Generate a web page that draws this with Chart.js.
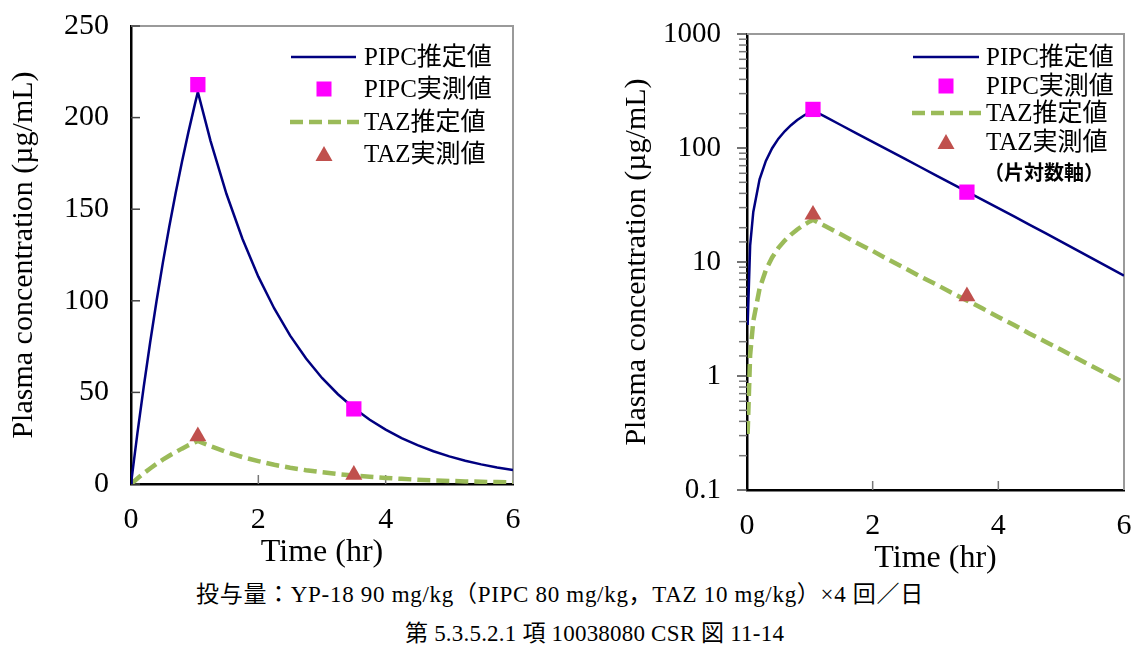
<!DOCTYPE html>
<html lang="ja">
<head>
<meta charset="UTF-8">
<title>PIPC / TAZ 血漿中濃度</title>
<script src="https://cdn.jsdelivr.net/npm/chart.js"></script>
<style>
  body { margin: 0; background: #fff; }
  #page { position: relative; width: 1135px; height: 646px; overflow: hidden;
          font-family: "Liberation Serif", "Noto Sans CJK JP", serif; color: #000; }
  .box { position: absolute; top: 0; }
  #box1 { left: 0; width: 560px; height: 580px; }
  #box2 { left: 600px; width: 535px; height: 580px; }
  .lg { position: absolute; white-space: nowrap; font-size: 25px; line-height: 30px; height: 30px; }
  .lg svg { position: absolute; top: 0; }
  .cap { position: absolute; white-space: nowrap; font-size: 23px; line-height: 26px; }
</style>
</head>
<body>
<div id="page">
  <div class="box" id="box1"><canvas id="linChart"></canvas></div>
  <div class="box" id="box2"><canvas id="logChart"></canvas></div>

  <!-- legend, left chart -->
  <div class="lg" style="left:288px;top:42px"><svg width="72" height="30"><line x1="3" y1="15" x2="68" y2="15" stroke="#000080" stroke-width="2.5"/></svg><span style="position:absolute;left:76px">PIPC推定値</span></div>
  <div class="lg" style="left:288px;top:74px"><svg width="72" height="30"><rect x="28.5" y="7.5" width="15" height="15" fill="#ff00ff"/></svg><span style="position:absolute;left:76px">PIPC実測値</span></div>
  <div class="lg" style="left:288px;top:107px"><svg width="72" height="30"><line x1="2" y1="15" x2="71" y2="15" stroke="#9bbb59" stroke-width="4.5" stroke-dasharray="13 6"/></svg><span style="position:absolute;left:76px">TAZ推定値</span></div>
  <div class="lg" style="left:288px;top:139px"><svg width="72" height="30"><polygon points="36,7 44.5,22 27.5,22" fill="#c0504d"/></svg><span style="position:absolute;left:76px">TAZ実測値</span></div>

  <!-- legend, right chart -->
  <div class="lg" style="left:910px;top:42px"><svg width="72" height="30"><line x1="3" y1="15" x2="69" y2="15" stroke="#000080" stroke-width="2.5"/></svg><span style="position:absolute;left:76px">PIPC推定値</span></div>
  <div class="lg" style="left:910px;top:71px"><svg width="72" height="30"><rect x="28.5" y="7.5" width="15" height="15" fill="#ff00ff"/></svg><span style="position:absolute;left:76px">PIPC実測値</span></div>
  <div class="lg" style="left:910px;top:98px"><svg width="72" height="30"><line x1="2" y1="15" x2="71" y2="15" stroke="#9bbb59" stroke-width="4.5" stroke-dasharray="13 6"/></svg><span style="position:absolute;left:76px">TAZ推定値</span></div>
  <div class="lg" style="left:910px;top:127px"><svg width="72" height="30"><polygon points="36,7 44.5,22 27.5,22" fill="#c0504d"/></svg><span style="position:absolute;left:76px">TAZ実測値</span></div>
  <div class="lg" style="left:984px;top:158px;font-size:20px;font-weight:bold">（片対数軸）</div>

  <div class="cap" style="left:196px;top:582px;letter-spacing:0.7px">投与量：YP-18 90 mg/kg（PIPC 80 mg/kg，TAZ 10 mg/kg）×4 回／日</div>
  <div class="cap" style="left:405px;top:621px;letter-spacing:0.2px">第 5.3.5.2.1 項 10038080 CSR 図 11-14</div>
</div>

<script>
  // time points of the simulated curves (hr) and read-off concentrations (µg/mL)
  const timeHr = [0, 0.01, 0.05, 0.1, 0.2, 0.3, 0.4, 0.5, 0.6, 0.7, 0.8, 0.9, 1.0, 1.05,
    1.25, 1.5, 1.75, 2.0, 2.25, 2.5, 2.75, 3.0, 3.25, 3.5, 3.75, 4.0, 4.25, 4.5, 4.75,
    5.0, 5.25, 5.5, 5.75, 6.0];
  const pipcEst = [0, 2.8, 13.9, 27.5, 53.1, 77.1, 99.6, 120.7, 140.3, 158.6, 175.8, 191.8, 206.8, 214,
    187.2, 158.3, 133.9, 113.2, 95.8, 81.0, 68.5, 57.9, 49.0, 41.5, 35.1, 29.7, 25.1, 21.2, 17.9,
    15.1, 12.7, 10.7, 9.0, 7.6];
  const tazEst = [0, 0.31, 1.53, 3.02, 5.84, 8.48, 10.96, 13.3, 15.4, 17.4, 19.3, 21.1, 22.7, 23.5,
    20.6, 17.4, 14.7, 12.5, 10.5, 8.9, 7.5, 6.4, 5.4, 4.6, 3.9, 3.3, 2.8, 2.35, 2.0,
    1.7, 1.43, 1.21, 1.03, 0.87];

  // observed samples
  const sampleHr = [1.05, 3.5];
  const pipcObs = [218, 41];
  const tazObs = [26, 5.0];

  // axis ticks
  const timeTicks = [0, 2, 4, 6];
  const linTicks = [0, 50, 100, 150, 200, 250];
  const logMajor = [0.1, 1, 10, 100, 1000];
  const logLabels = ['0.1', '1', '10', '100', '1000'];

  Chart.defaults.font.family = '"Liberation Serif", "Noto Sans CJK JP", serif';
  Chart.defaults.color = '#000';

  function pts(xs, ys, dropZero) {
    return xs.map((x, i) => ({ x: x, y: (dropZero && ys[i] <= 0) ? null : ys[i] }));
  }

  function makeData(logY) {
    return {
      datasets: [
        { label: 'PIPC実測値', data: pts(sampleHr, pipcObs), showLine: false, order: 0,
          pointStyle: 'rect', pointRadius: 10.8, pointHoverRadius: 10.8,
          backgroundColor: '#ff00ff', borderColor: '#ff00ff', borderWidth: 0 },
        { label: 'TAZ実測値', data: pts(sampleHr, tazObs), showLine: false, order: 0,
          pointStyle: 'triangle', pointRadius: 9.8, pointHoverRadius: 9.8,
          backgroundColor: '#c0504d', borderColor: '#c0504d', borderWidth: 0 },
        { label: 'PIPC推定値', data: pts(timeHr, pipcEst, logY), showLine: true, order: 1,
          pointRadius: 0, borderColor: '#000080', borderWidth: 2.5, tension: 0 },
        { label: 'TAZ推定値', data: pts(timeHr, tazEst, logY), showLine: true, order: 2,
          pointRadius: 0, borderColor: '#9bbb59', borderWidth: 4.5, borderDash: [13, 6], tension: 0 }
      ]
    };
  }

  // gray top/right frame + tick marks drawn from the scales
  const framePlugin = {
    id: 'frame',
    beforeDatasetsDraw(chart) {
      const { ctx, chartArea: a } = chart;
      ctx.save();
      ctx.strokeStyle = '#9a9a9a';
      ctx.lineWidth = 2;
      ctx.beginPath();
      ctx.moveTo(a.left, a.top);
      ctx.lineTo(a.right, a.top);
      ctx.lineTo(a.right, a.bottom);
      ctx.stroke();

      const xs = chart.scales.x;
      ctx.strokeStyle = '#777';
      ctx.lineWidth = 1.5;
      timeTicks.slice(1, -1).forEach(v => {
        const px = xs.getPixelForValue(v);
        ctx.beginPath();
        ctx.moveTo(px, a.bottom);
        ctx.lineTo(px, a.bottom - 9);
        ctx.stroke();
      });

      const ys = chart.scales.y;
      if (ys.type === 'logarithmic') {
        ys.ticks.forEach(t => {
          const major = logMajor.some(m => Math.abs(m - t.value) < 1e-9);
          const py = ys.getPixelForValue(t.value);
          ctx.strokeStyle = major ? '#444' : '#777';
          ctx.beginPath();
          ctx.moveTo(a.left, py);
          ctx.lineTo(a.left - (major ? 10 : 8), py);
          ctx.stroke();
        });
      } else {
        ctx.strokeStyle = '#444';
        linTicks.forEach(v => {
          const py = ys.getPixelForValue(v);
          ctx.beginPath();
          ctx.moveTo(a.left, py);
          ctx.lineTo(a.left + 9, py);
          ctx.stroke();
        });
      }
      ctx.restore();
    }
  };

  function baseOptions(cfg) {
    return {
      responsive: true,
      maintainAspectRatio: false,
      animation: false,
      events: [],
      layout: { padding: cfg.padding },
      plugins: { legend: { display: false }, tooltip: { enabled: false } },
      scales: {
        x: {
          type: 'linear', min: 0, max: 6,
          afterBuildTicks: s => { s.ticks = timeTicks.map(v => ({ value: v })); },
          afterFit: s => { s.height = cfg.xHeight; s.paddingLeft = 0; s.paddingRight = 0; },
          ticks: { font: { size: 30 }, padding: cfg.xPad, maxRotation: 0 },
          grid: { display: false, drawTicks: false },
          border: { display: true, color: '#000', width: 2.5 },
          title: { display: true, text: 'Time (hr)', font: { size: 32 },
                   padding: { top: 0, bottom: cfg.xTitlePad } }
        },
        y: cfg.y
      }
    };
  }

  new Chart(document.getElementById('linChart'), {
    type: 'scatter',
    data: makeData(false),
    options: baseOptions({
      padding: { left: 0, top: 26, right: 47, bottom: 0 },
      xHeight: 96, xPad: 18, xTitlePad: 8,
      y: {
        type: 'linear', min: 0, max: 250,
        afterBuildTicks: s => { s.ticks = linTicks.map(v => ({ value: v })); },
        afterFit: s => { s.width = 131; s.paddingTop = 0; s.paddingBottom = 0; },
        ticks: { font: { size: 30 }, padding: 22 },
        grid: { display: false, drawTicks: false },
        border: { display: true, color: '#000', width: 2.5 },
        title: { display: true, text: 'Plasma concentration (µg/mL)', font: { size: 30 },
                 padding: { top: 6, bottom: 0 } }
      }
    }),
    plugins: [framePlugin]
  });

  new Chart(document.getElementById('logChart'), {
    type: 'scatter',
    data: makeData(true),
    options: baseOptions({
      padding: { left: 0, top: 34, right: 11, bottom: 0 },
      xHeight: 90, xPad: 18, xTitlePad: 2,
      y: {
        type: 'logarithmic', min: 0.1, max: 1000,
        afterFit: s => { s.width = 147; s.paddingTop = 0; s.paddingBottom = 0; },
        ticks: {
          font: { size: 29 }, padding: 26, autoSkip: false,
          callback: v => {
            const i = logMajor.findIndex(m => Math.abs(m - v) < 1e-9);
            return i >= 0 ? logLabels[i] : '';
          }
        },
        grid: { display: false, drawTicks: false },
        border: { display: true, color: '#000', width: 2.5 },
        title: { display: true, text: 'Plasma concentration (µg/mL)', font: { size: 30 },
                 padding: { top: 19, bottom: 0 } }
      }
    }),
    plugins: [framePlugin]
  });
</script>
</body>
</html>
